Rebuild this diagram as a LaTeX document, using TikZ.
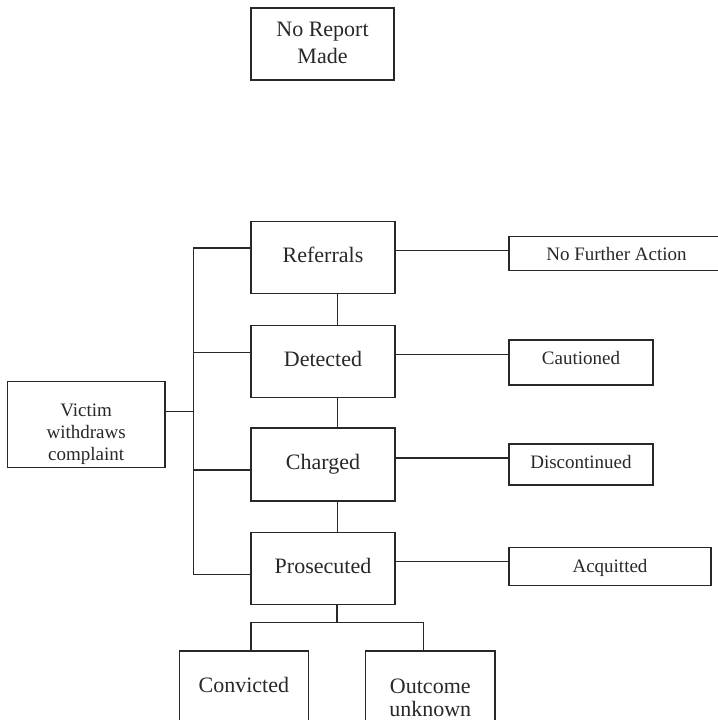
\documentclass[tikz,border=0pt]{standalone}
\usepackage{fontspec}
\setmainfont{Liberation Serif}
\usetikzlibrary{calc}
\definecolor{ink}{RGB}{40,40,40}
\tikzset{
  box/.style={draw=ink, line width=1.2bp, rectangle, inner sep=0pt, text=ink, align=center},
  bigt/.style={font=\fontsize{22bp}{26bp}\selectfont},
  smallt/.style={font=\fontsize{19bp}{22bp}\selectfont},
  conn/.style={draw=ink, line width=1.2bp},
}
\begin{document}
\begin{tikzpicture}[x=1bp,y=-1bp]
\useasboundingbox (0,0) rectangle (718,720);
\clip (0,0) rectangle (718,720);
\fill[white] (0,0) rectangle (718,720);

% top box
\node[box, bigt, minimum width=143bp, minimum height=72bp, text height=14bp, text depth=29.4bp] (nrm) at (322.5,44)
  {\fontsize{22bp}{27bp}\selectfont\begin{tabular}[t]{@{}c@{}}No Report\\Made\end{tabular}};

% main column
\node[box, bigt, minimum width=144bp, minimum height=72bp, text height=15bp, text depth=6bp] (ref) at (323,257.5) {Referrals};
\node[box, bigt, minimum width=144bp, minimum height=72bp, text height=15bp, text depth=6bp] (det) at (323,361.5) {Detected};
\node[box, bigt, minimum width=144bp, minimum height=73bp, text height=15bp, text depth=6bp] (cha) at (323,464.5) {Charged};
\node[box, bigt, minimum width=144bp, minimum height=72bp, text height=15bp, text depth=6bp] (pro) at (323,568.5) {Prosecuted};

% right column
\node[box, smallt, minimum width=215bp, minimum height=34.2bp, text height=14bp, text depth=0bp] (nfa) at (616.5,253.6) {No Further Action};
\node[box, smallt, minimum width=144bp, minimum height=45bp, text height=14bp, text depth=10bp] (cau) at (581,362.5) {Cautioned};
\node[box, smallt, minimum width=144bp, minimum height=41bp, text height=14bp, text depth=6bp] (dis) at (581,464.5) {Discontinued};
\node[box, smallt, minimum width=202bp, minimum height=38bp, text height=14bp, text depth=2bp] (acq) at (610,566.7) {Acquitted};

% left box
\node[box, smallt, minimum width=157.7bp, minimum height=85.6bp, text height=13bp, text depth=28.6bp] (vic) at (86.2,424.5)
  {\fontsize{19bp}{21.7bp}\selectfont\begin{tabular}[t]{@{}c@{}}Victim\\withdraws\\complaint\end{tabular}};

% bottom boxes
\node[box, bigt, minimum width=129bp, minimum height=89bp, text height=14bp, text depth=21bp] (con) at (243.8,695.5) {Convicted};
\node[box, bigt, minimum width=129.3bp, minimum height=89bp, text height=14bp, text depth=18.4bp] (out) at (430.3,695.5)
  {\fontsize{22bp}{22.7bp}\selectfont\begin{tabular}[t]{@{}c@{}}Outcome\\unknown\end{tabular}};

% connector end points
\coordinate (bus) at (193.5,0);
\coordinate (rw) at ([yshift=9.5bp]ref.west);
\coordinate (dw) at ([yshift=9bp]det.west);
\coordinate (cw) at ([yshift=-5.5bp]cha.west);
\coordinate (pw) at ([yshift=-6bp]pro.west);
\coordinate (ve) at ([yshift=12.8bp]vic.east);
\coordinate (re) at ([yshift=7bp]ref.east);
\coordinate (de) at ([yshift=7.2bp]det.east);
\coordinate (ce) at ([yshift=6.5bp]cha.east);
\coordinate (pe) at ([yshift=6.8bp]pro.east);

% left bus
\draw[conn] (rw) -| (bus |- pw) -- (pw);
\draw[conn] (dw) -- (bus |- dw);
\draw[conn] (cw) -- (bus |- cw);
\draw[conn] (ve) -- (bus |- ve);

% right connectors
\draw[conn] (re) -- (nfa.west |- re);
\draw[conn] (de) -- (cau.west |- de);
\draw[conn] (ce) -- (dis.west |- ce);
\draw[conn] (pe) -- (acq.west |- pe);

% vertical chain
\draw[conn] ([xshift=14.5bp]ref.south) -- ([xshift=14.5bp]det.north);
\draw[conn] ([xshift=14.5bp]det.south) -- ([xshift=14.5bp]cha.north);
\draw[conn] ([xshift=14.5bp]cha.south) -- ([xshift=14.5bp]pro.north);

% bottom branch
\coordinate (mid) at ([xshift=14bp,yshift=-17.5bp]pro.south);
\coordinate (cn) at ([xshift=7.2bp]con.north);
\coordinate (on) at ([xshift=-7bp]out.north);
\draw[conn] ([xshift=14bp]pro.south) -- (mid);
\draw[conn] (cn) |- (mid) -| (on);
\end{tikzpicture}
\end{document}
